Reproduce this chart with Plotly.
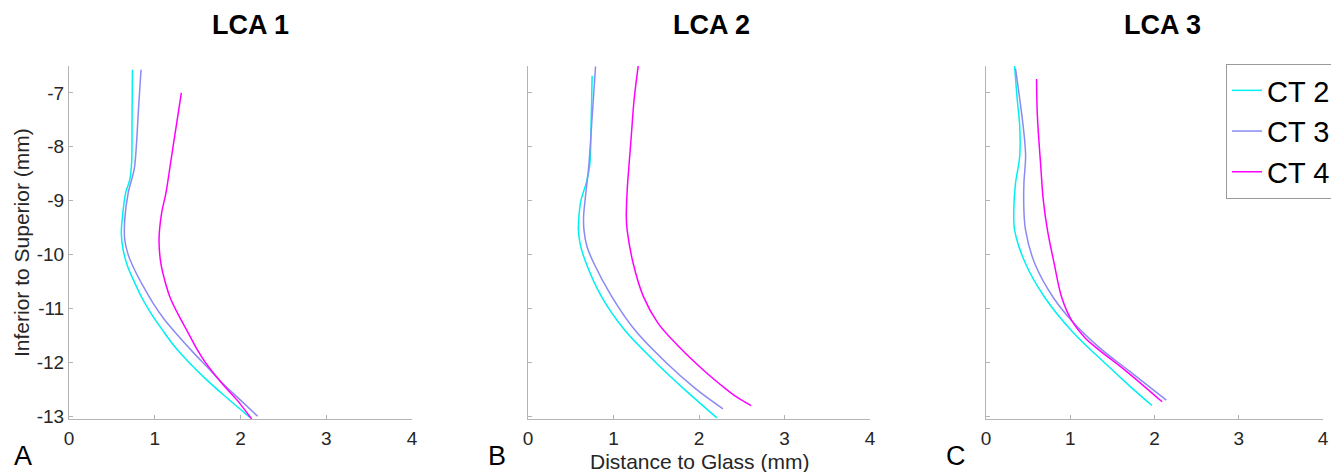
import plotly.graph_objects as go

# ---------------- data ----------------
series_names = ["CT 2", "CT 3", "CT 4"]
series_colors = ["#00f0f0", "#8a8af5", "#ff00ff"]
panel_titles = ["LCA 1", "LCA 2", "LCA 3"]
panel_letters = ["A", "B", "C"]
x_ticks = [0, 1, 2, 3, 4]
y_ticks = [-13, -12, -11, -10, -9, -8, -7]

# Panel A (LCA 1)
a_ct2_x = [0.74, 0.735, 0.73, 0.71, 0.66, 0.62, 0.61, 0.63, 0.68, 0.76, 0.85, 0.96, 1.09, 1.23, 1.40, 1.59, 1.80, 2.11]
a_ct2_y = [-6.57, -7.5, -8.3, -8.6, -8.86, -9.35, -9.6, -9.9, -10.2, -10.5, -10.8, -11.1, -11.4, -11.7, -12.0, -12.3, -12.6, -13.02]
a_ct3_x = [0.84, 0.81, 0.78, 0.76, 0.69, 0.65, 0.65, 0.69, 0.77, 0.87, 0.98, 1.11, 1.27, 1.44, 1.62, 1.80, 2.00, 2.20]
a_ct3_y = [-6.57, -7.31, -8.11, -8.42, -8.86, -9.35, -9.72, -10.0, -10.3, -10.6, -10.9, -11.2, -11.5, -11.8, -12.1, -12.4, -12.7, -13.0]
a_ct4_x = [1.31, 1.25, 1.19, 1.13, 1.08, 1.05, 1.07, 1.12, 1.18, 1.27, 1.39, 1.49, 1.59, 1.79, 1.96, 2.13]
a_ct4_y = [-7.0, -7.62, -8.24, -8.86, -9.23, -9.72, -10.15, -10.5, -10.8, -11.1, -11.45, -11.75, -12.0, -12.4, -12.7, -13.05]

# Panel B (LCA 2)
b_ct2_x = [0.75, 0.74, 0.72, 0.68, 0.62, 0.595, 0.59, 0.61, 0.68, 0.86, 1.13, 1.50, 1.83, 2.21]
b_ct2_y = [-6.68, -7.45, -8.37, -8.68, -8.99, -9.3, -9.55, -9.8, -10.16, -10.78, -11.4, -12.01, -12.5, -13.03]
b_ct3_x = [0.79, 0.75, 0.71, 0.68, 0.65, 0.655, 0.69, 0.77, 0.98, 1.25, 1.62, 1.97, 2.28]
b_ct3_y = [-6.51, -7.45, -8.37, -8.81, -9.3, -9.55, -9.85, -10.16, -10.78, -11.4, -12.01, -12.5, -12.86]
b_ct4_x = [1.29, 1.24, 1.21, 1.18, 1.16, 1.15, 1.16, 1.23, 1.35, 1.52, 1.76, 2.05, 2.32, 2.42, 2.50, 2.61]
b_ct4_y = [-6.49, -7.14, -7.76, -8.37, -8.81, -9.3, -9.55, -10.16, -10.78, -11.27, -11.7, -12.14, -12.5, -12.62, -12.7, -12.8]

# Panel C (LCA 3)
c_ct2_x = [0.34, 0.37, 0.40, 0.40, 0.35, 0.33, 0.34, 0.47, 0.70, 1.02, 1.43, 1.70, 1.97]
c_ct2_y = [-6.5, -7.11, -7.61, -8.18, -8.68, -9.18, -9.55, -10.17, -10.8, -11.42, -12.04, -12.43, -12.8]
c_ct3_x = [0.35, 0.40, 0.45, 0.47, 0.45, 0.45, 0.47, 0.58, 0.80, 1.02, 1.35, 1.71, 2.14]
c_ct3_y = [-6.55, -7.11, -7.74, -8.18, -8.68, -9.18, -9.55, -10.17, -10.8, -11.23, -11.73, -12.17, -12.7]
c_ct4_x = [0.60, 0.61, 0.65, 0.68, 0.73, 0.81, 0.90, 1.02, 1.18, 1.31, 1.67, 2.09]
c_ct4_y = [-6.74, -7.43, -8.36, -8.99, -9.55, -10.17, -10.8, -11.23, -11.55, -11.73, -12.17, -12.73]

panels = [
    [(a_ct2_x, a_ct2_y), (a_ct3_x, a_ct3_y), (a_ct4_x, a_ct4_y)],
    [(b_ct2_x, b_ct2_y), (b_ct3_x, b_ct3_y), (b_ct4_x, b_ct4_y)],
    [(c_ct2_x, c_ct2_y), (c_ct3_x, c_ct3_y), (c_ct4_x, c_ct4_y)],
]

# ---------------- layout geometry ----------------
W, H = 1331, 472
x_domains_px = [(69, 412), (528, 870), (986, 1323)]
y_domain_px = (66, 419)  # top, bottom
title_x_px = [250, 711, 1162]
letter_x_px = [23, 497, 956]

FONT = "Liberation Sans, Arial, Helvetica, sans-serif"
AXIS_COLOR = "#b4b4b4"
TEXT_COLOR = "#262626"

fig = go.Figure()

for p, panel in enumerate(panels):
    xa = "x" if p == 0 else f"x{p+1}"
    ya = "y" if p == 0 else f"y{p+1}"
    for s, (xs, ys) in enumerate(panel):
        fig.add_trace(go.Scatter(
            x=xs, y=ys, mode="lines",
            line=dict(color=series_colors[s], width=1.5, shape="spline", smoothing=1.0),
            name=series_names[s], showlegend=(p == 2),
            xaxis=xa, yaxis=ya, hoverinfo="skip",
        ))

layout = dict(
    width=W, height=H,
    margin=dict(l=0, r=0, t=0, b=0, autoexpand=False),
    paper_bgcolor="white", plot_bgcolor="white",
    font=dict(family=FONT, color=TEXT_COLOR),
    showlegend=True,
    legend=dict(
        x=1226 / W, y=1 - 64 / H, xanchor="left", yanchor="top",
        bordercolor="#9a9a9a", borderwidth=1, bgcolor="white",
        font=dict(size=29, color="black", family=FONT),
        tracegroupgap=0, itemwidth=30,
    ),
)

annotations = []
for p in range(3):
    suffix = "" if p == 0 else str(p + 1)
    x0, x1 = x_domains_px[p]
    layout["xaxis" + suffix] = dict(
        domain=[x0 / W, x1 / W], range=[0, 4],
        tickvals=x_ticks, ticktext=[str(v) for v in x_ticks],
        ticks="inside", ticklen=4, tickcolor=AXIS_COLOR,
        showline=True, linecolor=AXIS_COLOR, linewidth=1,
        showgrid=False, zeroline=False, automargin=False,
        tickfont=dict(size=19, color=TEXT_COLOR, family=FONT),
        ticklabelstandoff=2,
        anchor="y" + suffix, fixedrange=True,
    )
    layout["yaxis" + suffix] = dict(
        domain=[1 - y_domain_px[1] / H, 1 - y_domain_px[0] / H], range=[-13.05, -6.5],
        tickvals=y_ticks,
        ticktext=[str(v) for v in y_ticks] if p == 0 else ["" for v in y_ticks],
        ticks="inside", ticklen=4, tickcolor=AXIS_COLOR,
        showline=True, linecolor=AXIS_COLOR, linewidth=1,
        showgrid=False, zeroline=False, automargin=False,
        tickfont=dict(size=19, color=TEXT_COLOR, family=FONT),
        anchor="x" + suffix, fixedrange=True,
    )
    annotations.append(dict(
        text="<b>" + panel_titles[p] + "</b>", xref="paper", yref="paper",
        x=title_x_px[p] / W, y=1 - 25 / H, xanchor="center", yanchor="middle",
        showarrow=False, font=dict(size=27, color="black", family=FONT),
    ))
    annotations.append(dict(
        text=panel_letters[p], xref="paper", yref="paper",
        x=letter_x_px[p] / W, y=1 - 456 / H, xanchor="center", yanchor="middle",
        showarrow=False, font=dict(size=27, color="black", family=FONT),
    ))

annotations.append(dict(
    text="Inferior to Superior (mm)", xref="paper", yref="paper",
    x=22 / W, y=1 - 243 / H, xanchor="center", yanchor="middle", textangle=-90,
    showarrow=False, font=dict(size=21, color=TEXT_COLOR, family=FONT),
))
annotations.append(dict(
    text="Distance to Glass (mm)", xref="paper", yref="paper",
    x=699 / W, y=1 - 461 / H, xanchor="center", yanchor="middle",
    showarrow=False, font=dict(size=21, color=TEXT_COLOR, family=FONT),
))
layout["annotations"] = annotations

fig.update_layout(**layout)
fig.write_html(
    "out.html",
    config={"displayModeBar": False},
    post_script="document.body.style.margin='0';document.body.style.overflow='hidden';",
)
